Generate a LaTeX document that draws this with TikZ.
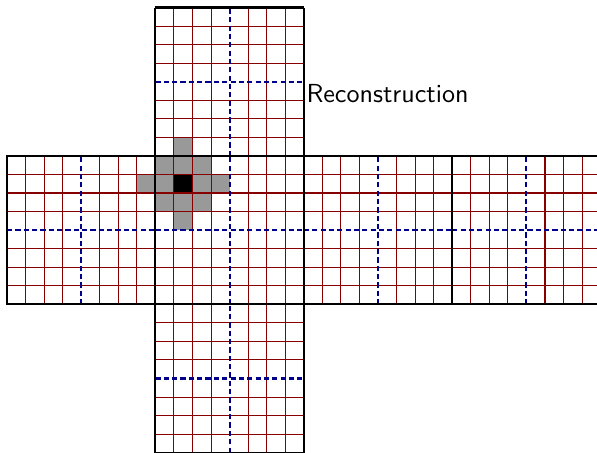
\documentclass[tikz,border=0pt]{standalone}
\definecolor{gridred}{RGB}{135,0,0}
\definecolor{guideblue}{RGB}{0,0,140}
\definecolor{cellgray}{RGB}{153,153,153}
\tikzset{
  redgrid/.style={draw=gridred, line width=0.4pt},
  blueguide/.style={draw=guideblue, line width=0.8pt, dash pattern=on 2pt off 1.2pt},
  facebord/.style={draw=black, line width=0.8pt},
  grayfill/.style={fill=cellgray, draw=none},
  blackfill/.style={fill=black, draw=none},
  lbl/.style={font=\sffamily, anchor=base west, inner sep=0pt}
}
\begin{document}
\begin{tikzpicture}
\useasboundingbox (-0.0943,-1.991) rectangle (7.951,4.101);
\clip (-0.0943,-1.991) rectangle (7.951,4.101);
% highlighted cells
\fill[grayfill] (2.25,2) rectangle (2.5,2.25);
\fill[grayfill] (2,1.75) rectangle (2.75,2);
\fill[grayfill] (1.75,1.5) rectangle (3,1.75);
\fill[grayfill] (2,1.25) rectangle (2.75,1.5);
\fill[grayfill] (2.25,1) rectangle (2.5,1.25);
\fill[blackfill] (2.25,1.5) rectangle (2.5,1.75);
% faces: red grid and blue guides
\foreach \ox/\oy in {0/0, 2/0, 4/0, 6/0, 2/2, 2/-2}{
  \foreach \k in {1,2,3,5,6,7}{
    \draw[redgrid] (\ox+\k*0.25,\oy) -- (\ox+\k*0.25,\oy+2);
    \draw[redgrid] (\ox,\oy+\k*0.25) -- (\ox+2,\oy+\k*0.25);
  }
  \draw[blueguide] (\ox+1,\oy) -- (\ox+1,\oy+2);
  \draw[blueguide] (\ox,\oy+1) -- (\ox+2,\oy+1);
}
% face borders
\draw[facebord] (0,0) rectangle (8,2);
\draw[facebord] (2,-2) -- (2,4);
\draw[facebord] (4,-2) -- (4,4);
\draw[facebord] (6,0) -- (6,2);
\draw[facebord] (2,4) -- (4,4);
\draw[facebord] (2,-2) -- (4,-2);
\node[lbl] (recon) at (4.03,2.722) {Reconstruction};
\end{tikzpicture}
\end{document}
